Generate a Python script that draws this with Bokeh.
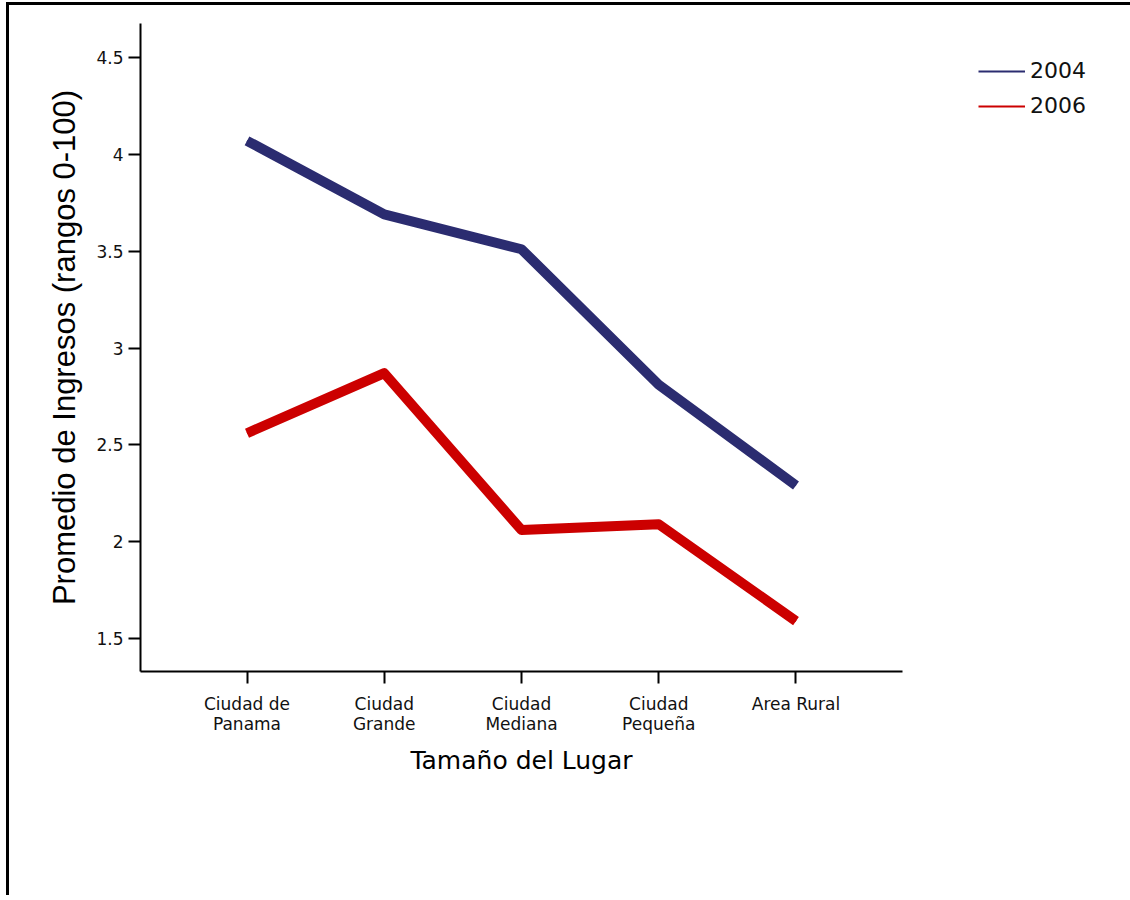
from bokeh.plotting import figure
from bokeh.models import (FactorRange, Range1d, FixedTicker, CustomJSTickFormatter,
                          Legend, LegendItem)
from bokeh.embed import file_html
from bokeh.resources import INLINE

# ---- data ----
places = ["Ciudad de\nPanama", "Ciudad\nGrande", "Ciudad\nMediana", "Ciudad\nPequeña", "Area Rural"]
ingresos_2004 = [4.07, 3.69, 3.51, 2.81, 2.29]
ingresos_2006 = [2.56, 2.87, 2.06, 2.09, 1.59]
y_ticks = [1.5, 2.0, 2.5, 3.0, 3.5, 4.0, 4.5]
series_names = ["2004", "2006"]

C2004 = "#2b2c70"
C2006 = "#cc0000"

p = figure(x_range=FactorRange(*places, range_padding=0.1104),
           y_range=Range1d(1.3296, 4.6756),
           frame_width=762, frame_height=648,
           min_border_left=131, min_border_top=18,
           min_border_right=222, min_border_bottom=224,
           output_backend="svg", toolbar_location=None)
p.styles = {"border-left": "3px solid black", "border-top": "3px solid black",
            "margin-left": "6px", "margin-top": "2px"}

p.background_fill_color = "white"
p.border_fill_color = "white"
p.outline_line_color = None
p.xgrid.visible = False
p.ygrid.visible = False

# thin lines for the legend (hidden under the thick ones)
r_leg04 = p.line(places, ingresos_2004, line_color=C2004, line_width=2)
r_leg06 = p.line(places, ingresos_2006, line_color=C2006, line_width=2)
p.line(places, ingresos_2004, line_color=C2004, line_width=10,
       line_join="round", line_cap="butt")
p.line(places, ingresos_2006, line_color=C2006, line_width=10,
       line_join="round", line_cap="butt")

# axes
for ax in (p.xaxis[0], p.yaxis[0]):
    ax.axis_line_color = "black"
    ax.axis_line_width = 2
    ax.major_tick_line_color = "black"
    ax.major_tick_line_width = 2
    ax.major_tick_out = 12
    ax.major_tick_in = 0
    ax.minor_tick_line_color = None
    ax.major_label_text_color = "#111111"
    ax.axis_label_text_color = "black"
    ax.axis_label_text_font_style = "normal"

p.xaxis.major_label_text_font = "DejaVu Sans"
p.xaxis.major_label_text_font_size = "17px"
p.xaxis.major_label_text_line_height = 1.0
p.xaxis.major_label_standoff = 10
p.xaxis.axis_label = "Tamaño del Lugar"
p.xaxis.axis_label_text_font = "DejaVu Sans"
p.xaxis.axis_label_text_font_size = "25px"
p.xaxis.axis_label_standoff = 9

p.yaxis.ticker = FixedTicker(ticks=y_ticks)
p.yaxis.formatter = CustomJSTickFormatter(code="return String(tick);")
p.yaxis.major_label_text_font = "DejaVu Sans"
p.yaxis.major_label_text_font_size = "17px"
p.yaxis.major_label_standoff = 5
p.yaxis.axis_label = "Promedio de Ingresos (rangos 0-100)"
p.yaxis.axis_label_text_font = "Liberation Sans"
p.yaxis.axis_label_text_font_size = "31px"
p.yaxis.axis_label_standoff = 11

legend = Legend(items=[LegendItem(label=series_names[0], renderers=[r_leg04]),
                       LegendItem(label=series_names[1], renderers=[r_leg06])],
                location=(76, 553), padding=0, margin=0, spacing=10,
                glyph_width=47, glyph_height=24, label_height=24,
                label_standoff=5, border_line_color=None,
                background_fill_alpha=0,
                label_text_font="DejaVu Sans", label_text_font_size="22px",
                label_text_color="#111111")
p.add_layout(legend, "right")

open("out.html", "w").write(file_html(p, INLINE))
